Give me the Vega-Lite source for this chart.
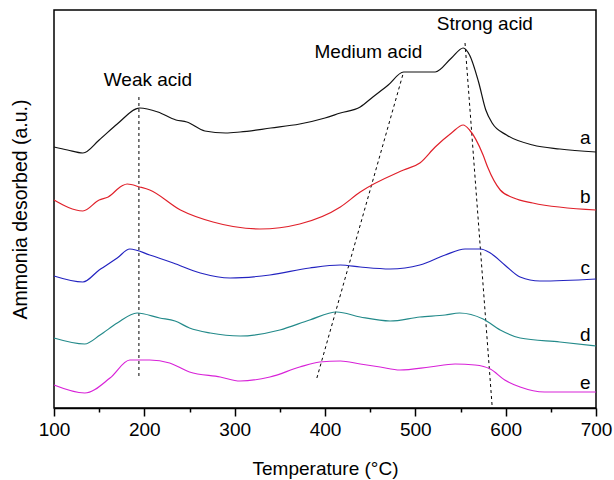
{
  "$schema": "https://vega.github.io/schema/vega-lite/v6.json",
  "width": 542,
  "height": 398,
  "autosize": {"type": "none"},
  "padding": {"left": 54, "top": 10, "right": 18, "bottom": 72},
  "background": "white",
  "config": {
    "view": {"stroke": "black", "strokeWidth": 1.5},
    "font": "Liberation Sans"
  },
  "datasets": {
    "curves": [
      {"s":"a","T":100,"v":261},{"s":"a","T":115,"v":258},{"s":"a","T":132,"v":255},{"s":"a","T":150,"v":268},{"s":"a","T":170,"v":284},{"s":"a","T":195,"v":300},{"s":"a","T":215,"v":296},{"s":"a","T":235,"v":288},{"s":"a","T":247,"v":286},{"s":"a","T":267,"v":277},{"s":"a","T":290,"v":275},{"s":"a","T":306,"v":276},{"s":"a","T":340,"v":280},{"s":"a","T":372,"v":284},{"s":"a","T":400,"v":290},{"s":"a","T":417,"v":295},{"s":"a","T":439,"v":301},{"s":"a","T":453,"v":311},{"s":"a","T":470,"v":323},{"s":"a","T":487,"v":336},{"s":"a","T":505,"v":336},{"s":"a","T":522,"v":336},{"s":"a","T":540,"v":350},{"s":"a","T":553,"v":360},{"s":"a","T":560,"v":353},{"s":"a","T":570,"v":326},{"s":"a","T":578,"v":298},{"s":"a","T":585,"v":285},{"s":"a","T":601,"v":273},{"s":"a","T":630,"v":263},{"s":"a","T":660,"v":259},{"s":"a","T":700,"v":256},
      {"s":"b","T":100,"v":208},{"s":"b","T":132,"v":197},{"s":"b","T":150,"v":208},{"s":"b","T":160,"v":211},{"s":"b","T":175,"v":222},{"s":"b","T":181,"v":224},{"s":"b","T":195,"v":221},{"s":"b","T":206,"v":218},{"s":"b","T":240,"v":198},{"s":"b","T":276,"v":186},{"s":"b","T":328,"v":179},{"s":"b","T":372,"v":184},{"s":"b","T":417,"v":201},{"s":"b","T":439,"v":216},{"s":"b","T":487,"v":238},{"s":"b","T":505,"v":245},{"s":"b","T":522,"v":261},{"s":"b","T":540,"v":275},{"s":"b","T":553,"v":283},{"s":"b","T":560,"v":278},{"s":"b","T":575,"v":253},{"s":"b","T":580,"v":241},{"s":"b","T":594,"v":218},{"s":"b","T":609,"v":210},{"s":"b","T":630,"v":205},{"s":"b","T":700,"v":198},
      {"s":"c","T":100,"v":132},{"s":"c","T":132,"v":126},{"s":"c","T":150,"v":138},{"s":"c","T":170,"v":150},{"s":"c","T":184,"v":159},{"s":"c","T":206,"v":153},{"s":"c","T":232,"v":145},{"s":"c","T":262,"v":135},{"s":"c","T":295,"v":130},{"s":"c","T":339,"v":133},{"s":"c","T":383,"v":140},{"s":"c","T":417,"v":143},{"s":"c","T":439,"v":141},{"s":"c","T":472,"v":139},{"s":"c","T":505,"v":143},{"s":"c","T":533,"v":153},{"s":"c","T":555,"v":159},{"s":"c","T":572,"v":159},{"s":"c","T":583,"v":155},{"s":"c","T":599,"v":143},{"s":"c","T":616,"v":131},{"s":"c","T":638,"v":127},{"s":"c","T":700,"v":129},
      {"s":"d","T":100,"v":70},{"s":"d","T":134,"v":64},{"s":"d","T":151,"v":73},{"s":"d","T":170,"v":85},{"s":"d","T":192,"v":95},{"s":"d","T":217,"v":90},{"s":"d","T":234,"v":87},{"s":"d","T":250,"v":80},{"s":"d","T":273,"v":75},{"s":"d","T":306,"v":72},{"s":"d","T":350,"v":78},{"s":"d","T":383,"v":88},{"s":"d","T":413,"v":96},{"s":"d","T":439,"v":91},{"s":"d","T":472,"v":87},{"s":"d","T":505,"v":91},{"s":"d","T":533,"v":93},{"s":"d","T":549,"v":95},{"s":"d","T":575,"v":89},{"s":"d","T":594,"v":78},{"s":"d","T":616,"v":70},{"s":"d","T":660,"v":66},{"s":"d","T":700,"v":62},
      {"s":"e","T":100,"v":23},{"s":"e","T":134,"v":15},{"s":"e","T":162,"v":30},{"s":"e","T":184,"v":48},{"s":"e","T":206,"v":48},{"s":"e","T":228,"v":45},{"s":"e","T":250,"v":36},{"s":"e","T":284,"v":31},{"s":"e","T":306,"v":27},{"s":"e","T":339,"v":31},{"s":"e","T":372,"v":41},{"s":"e","T":394,"v":46},{"s":"e","T":417,"v":47},{"s":"e","T":439,"v":44},{"s":"e","T":461,"v":41},{"s":"e","T":483,"v":38},{"s":"e","T":516,"v":41},{"s":"e","T":544,"v":44},{"s":"e","T":566,"v":43},{"s":"e","T":583,"v":39},{"s":"e","T":599,"v":28},{"s":"e","T":616,"v":21},{"s":"e","T":643,"v":16},{"s":"e","T":700,"v":16}
    ],
    "guides": [
      {"g":"weak","T":194,"v":311},{"g":"weak","T":194,"v":31},
      {"g":"medium","T":487,"v":336},{"g":"medium","T":391,"v":30},
      {"g":"strong","T":555,"v":365},{"g":"strong","T":585,"v":2}
    ],
    "labels": [
      {"text":"Weak acid","T":204,"v":328},
      {"text":"Medium acid","T":448,"v":356},
      {"text":"Strong acid","T":577,"v":384},
      {"text":"a","T":688,"v":270},
      {"text":"b","T":688,"v":211},
      {"text":"c","T":688,"v":140},
      {"text":"d","T":688,"v":73},
      {"text":"e","T":688,"v":25}
    ]
  },
  "encoding": {
    "x": {
      "field": "T", "type": "quantitative",
      "scale": {"domain": [100, 700], "nice": false, "zero": false},
      "axis": {
        "title": "Temperature (°C)",
        "values": [100,150,200,250,300,350,400,450,500,550,600,650,700],
        "labelExpr": "datum.value % 100 === 0 ? datum.label : ''",
        "tickSize": {"condition": {"test": "datum.value % 100 === 0", "value": 8}, "value": 4},
        "grid": false,
        "domainColor": "black", "domainWidth": 1.5,
        "tickColor": "black", "tickWidth": 1.5,
        "labelFontSize": 19, "labelColor": "black", "labelPadding": 4, "labelFlush": false,
        "titleFontSize": 19, "titleFontWeight": "normal", "titleColor": "black", "titlePadding": 20
      }
    },
    "y": {
      "field": "v", "type": "quantitative",
      "scale": {"domain": [0, 398], "nice": false, "zero": false},
      "axis": {
        "title": "Ammonia desorbed (a.u.)",
        "labels": false, "ticks": false, "grid": false, "domain": false,
        "titleFontSize": 19.5, "titleFontWeight": "normal", "titleColor": "black", "titlePadding": 24
      }
    }
  },
  "layer": [
    {
      "data": {"name": "guides"},
      "mark": {"type": "line", "color": "black", "strokeWidth": 1, "strokeDash": [3, 3]},
      "encoding": {"detail": {"field": "g"}}
    },
    {
      "data": {"name": "curves"},
      "mark": {"type": "line", "strokeWidth": 1.2, "interpolate": "monotone"},
      "encoding": {
        "color": {
          "field": "s", "type": "nominal",
          "scale": {"domain": ["a","b","c","d","e"], "range": ["#111111", "#e0202a", "#2323c0", "#238a8a", "#d822d8"]},
          "legend": null
        }
      }
    },
    {
      "data": {"name": "labels"},
      "mark": {"type": "text", "fontSize": 19, "color": "black", "align": "center", "baseline": "middle"},
      "encoding": {"text": {"field": "text"}}
    }
  ]
}
